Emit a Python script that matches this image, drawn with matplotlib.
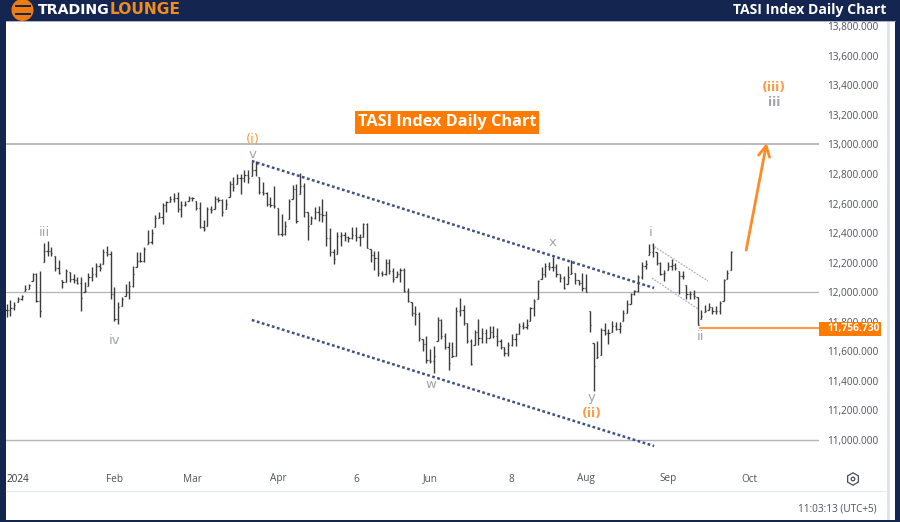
import numpy as np
import matplotlib
matplotlib.use("Agg")
import matplotlib.pyplot as plt
from matplotlib.patches import Rectangle, Circle, RegularPolygon

highs = [11919,11948,11930,11964,11982,12050,12054,12129,12129,12145,
         12332,12348,12303,12242,12217,12084,12156,12138,12122,12099,
         12099,12066,12129,12167,12197,12197,12292,12314,12280,12032,
         11930,11964,12054,12077,12174,12273,12269,12303,12420,12427,
         12524,12540,12603,12619,12653,12671,12676,12619,12619,
         12653,12646,12619,12612,12490,12574,12585,12653,12642,12630,
         12630,12755,12777,12800,12800,12829,12829,12879,12890,
         12782,12744,12676,12642,12721,12567,12529,12484,12630,12725,
         12732,12807,12737,12545,12517,12574,12581,12630,
         12551,12434,12292,12404,12409,12409,12377,12438,12438,12393,
         12468,12468,12292,12280,12280,
         12145,12224,12224,12160,12145,12160,12160,12025,11930,11907,
         11862,11681,11704,11614,11632,11828,11817,11726,11659,11659,
         11896,11957,11912,11794,11681,11745,11821,11754,11749,
         11767,11767,11760,11681,11625,11659,11715,11722,11790,11799,
         11817,11896,11952,12084,12167,12197,12201,12235,12190,12122,
         12111,12179,
         12215,12129,12079,12129,12124,11871,11654,11672,11758,11790,
         11751,11803,11797,11797,11876,11944,11993,12016,12113,12203,
         12215,12328,12332,12271,12203,12151,12203,12226,12197,12142,
         12142,12045,12007,12016,11966,11880,11916,11925,11898,11903,
         11943,12090,12147,12276]
lows = [11828,11840,11880,11934,11948,12009,12020,12077,11934,11828,
        12201,12246,12246,12145,12122,12027,12066,12070,12059,12054,
        11873,11998,12043,12077,12099,12145,12190,12246,11952,11806,
        11783,11907,11975,11952,12036,12167,12201,12201,12325,12325,
        12438,12499,12461,12540,12608,12608,12540,12506,12585,
        12619,12619,12558,12434,12411,12445,12536,12563,12612,12517,
        12563,12642,12687,12732,12664,12743,12739,12784,12788,
        12664,12658,12585,12574,12567,12386,12382,12386,12495,12630,
        12468,12664,12506,12353,12461,12495,12484,12472,
        12310,12246,12190,12258,12314,12348,12337,12359,12348,12314,
        12370,12296,12201,12151,12106,
        12106,12115,12122,12070,12099,12070,12002,11930,11840,11776,
        11670,11602,11519,11519,11451,11670,11681,11614,11473,11557,
        11568,11840,11776,11654,11505,11641,11641,11654,11654,11686,
        11686,11632,11614,11568,11568,11636,11636,11715,11749,11749,
        11806,11835,11952,12088,12099,12151,12145,12099,12066,12020,
        12054,
        12124,12056,12045,12007,12000,11729,11329,11555,11571,11706,
        11650,11729,11740,11724,11803,11858,11921,11977,12000,12090,
        12158,12249,12237,12181,12113,12075,12147,12151,12147,11984,
        12090,11955,11955,11955,11774,11819,11864,11880,11853,11853,
        11849,11943,12090,12151]
closes = [11880,11890,11915,11955,11975,12020,12045,12120,11940,11870,
          12280,12280,12265,12160,12130,12070,12140,12090,12080,12060,
          11960,12010,12100,12120,12180,12160,12275,12255,11990,11815,
          11900,11950,12000,12040,12120,12210,12210,12290,12340,12400,
          12500,12510,12590,12610,12630,12640,12560,12590,12600,
          12640,12640,12570,12440,12430,12560,12555,12630,12625,12540,
          12600,12730,12710,12770,12770,12790,12770,12830,12870,
          12680,12670,12600,12590,12580,12395,12395,12450,12620,12700,
          12480,12720,12540,12450,12500,12540,12530,12520,
          12365,12270,12225,12380,12390,12370,12365,12390,12370,12375,
          12460,12300,12250,12230,12130,
          12120,12200,12140,12090,12120,12150,12010,11940,11860,11850,
          11690,11650,11540,11530,11570,11810,11700,11630,11520,11570,
          11870,11880,11790,11670,11510,11730,11690,11725,11690,11730,
          11700,11670,11625,11585,11640,11680,11715,11770,11765,11780,
          11890,11940,12075,12120,12180,12170,12170,12120,12095,12030,
          12100,
          12130,12080,12060,12030,12000,11780,11500,11560,11740,11720,
          11720,11770,11750,11770,11860,11920,11985,12005,12100,12180,
          12190,12270,12300,12200,12125,12130,12180,12185,12165,12110,
          12110,11985,11985,11975,11779,11835,11875,11900,11870,11870,
          11925,12080,12130,12270]
n = min(len(highs), len(lows), len(closes))
highs, lows, closes = highs[:n], lows[:n], closes[:n]

month_labels = ["2024", "Feb", "Mar", "Apr", "6", "Jun", "8", "Aug", "Sep", "Oct"]
month_bars = [3, 29, 50, 73, 94, 114, 136, 156, 178, 200]
price_ticks = [11000, 11200, 11400, 11600, 11800, 12000, 12200, 12400, 12600,
               12800, 13000, 13200, 13400, 13600, 13800]
level_lines = [13000, 12000, 11000]
invalidation = 11756.73
upper_channel = ([66, 174.3], [12888, 12028])
lower_channel = ([66, 174.3], [11811, 10957])
small_upper = ([173.7, 188.8], [12319, 12075])
small_lower = ([173.7, 186.1], [12095, 11886])
forecast = ([199.1, 204.6], [12285, 13010])

W, H = 900, 522
NAVY = "#14264f"
ORANGE = "#ff7a00"
LORANGE = "#ff9a45"
GREY = "#a0a4ae"
TXT = "#50535c"
FONT = "Open Sans"

fig = plt.figure(figsize=(W / 100, H / 100), dpi=100, facecolor="white")

def box(l, t, r, b):
    return [l / W, 1 - b / H, (r - l) / W, (b - t) / H]

ax = fig.add_axes(box(5.5, 21, 819, 464))
ax.set_facecolor("none")
ax.set_xlim(-0.32, 218.7)
ax.set_ylim(10835.4, 13836.7)
for s in ax.spines.values():
    s.set_visible(False)

for lv, lw in zip(level_lines, [1.3, 0.9, 1.0]):
    ax.axhline(lv, color="#b4b4b4", lw=lw, zorder=1)

x = np.arange(n)
hi, lo, cl = map(np.array, (highs, lows, closes))
op = np.clip(np.r_[cl[0], cl[:-1]], lo, hi)
BAR = "#3c3c3c"
ax.vlines(x, lo, hi, color=BAR, lw=1.0, zorder=3)
ax.hlines(op, x - 0.33, x, color=BAR, lw=0.9, zorder=3)
ax.hlines(cl, x, x + 0.33, color=BAR, lw=0.9, zorder=3)

for (xs, ys) in (upper_channel, lower_channel):
    ax.plot(xs, ys, color="#3f5288", lw=1.8, ls=(0, (1.1, 1.0)), zorder=4)
for (xs, ys) in (small_upper, small_lower):
    ax.plot(xs, ys, color="#a9b2cc", lw=0.9, ls=(0, (1.5, 1)), zorder=2)

ax.plot([186.7, ax.get_xlim()[1]], [invalidation] * 2, color=LORANGE, lw=1.5, zorder=2)
ax.annotate("", xy=(forecast[0][1], forecast[1][1]), xytext=(forecast[0][0], forecast[1][0]),
            arrowprops=dict(arrowstyle="->,head_length=0.75,head_width=0.4", color="#ff8a26",
                            lw=2.0, shrinkA=0, shrinkB=0), zorder=5)

ax.set_xticks(month_bars, month_labels)
ax.set_yticks(price_ticks, [f"{p:,.3f}" for p in price_ticks])
ax.yaxis.tick_right()
ax.tick_params(axis="y", length=0, pad=5.6, labelsize=7.2, labelcolor=TXT)
ax.tick_params(axis="x", length=0, pad=10.8, labelsize=7.2, labelcolor=TXT)
for t in ax.get_xticklabels() + ax.get_yticklabels():
    t.set_family(FONT)
for t in ax.get_xticklabels():
    t.set_va("center")
ax.get_xticklabels()[0].set_color("#33363d")

# chart frame and header, in pixels
ov = fig.add_axes([0, 0, 1, 1], zorder=10)
ov.set_xlim(0, W)
ov.set_ylim(H, 0)
ov.axis("off")
ov.patch.set_alpha(0)
ov.add_patch(Rectangle((0, 0), W, 20.5, fc=NAVY, ec="none"))
ov.add_patch(Rectangle((0, 0), 5.5, H, fc=NAVY, ec="none"))
ov.add_patch(Rectangle((0, 519.5), W, 3, fc=NAVY, ec="none"))
ov.add_patch(Rectangle((895, 0), 5, H, fc=NAVY, ec="none"))
ov.add_patch(Rectangle((886.5, 21), 3.5, 498.5, fc="#e0e3f0", ec="none"))
ov.plot([5.5, 886.5], [491, 491], color="#e6e8ee", lw=0.9)
ov.plot([5.5, 895], [20.8, 20.8], color="#9aa3bd", lw=0.6)

# logo
ov.add_patch(Circle((22.5, 10), 11, fc="#f07c10", ec="none"))
for yy, hh, ww in ((5, 2.4, 16), (13, 2.4, 16)):
    ov.add_patch(Rectangle((22.5 - ww / 2, yy), ww, hh, fc=NAVY, ec="none"))
ov.text(38, 14, "TRADING", color="white", fontsize=10.2, fontweight="bold",
        family="DejaVu Sans", va="baseline", ha="left")
ov.text(110, 14, "LOUNGE", color="#f58a1f", fontsize=11.2, fontweight="bold",
        family="DejaVu Sans", va="baseline", ha="left")
ov.text(886, 10, "TASI Index Daily Chart", color="white", fontsize=10.1, fontweight="bold",
        family=FONT, va="center", ha="right")

# central title
ov.add_patch(Rectangle((355, 110.7), 184, 23.3, fc=ORANGE, ec="none"))
ov.text(447, 122, "TASI Index Daily Chart", color="white", fontsize=11.7, fontweight="bold",
        family=FONT, va="center", ha="center")

# price tag
ov.add_patch(Rectangle((819, 321.5), 62, 14.5, fc=ORANGE, ec="none"))
ov.text(827, 328.5, "11,756.730", color="white", fontsize=7.3, fontweight="bold",
        family=FONT, va="center", ha="left")

# wave labels
for txt, px, py, col, wt, fs in [
    ("(i)", 253, 139, LORANGE, "normal", 9.5),
    ("v", 253, 154, GREY, "normal", 9.5),
    ("iii", 44, 233, GREY, "normal", 9.5),
    ("iv", 115, 340, GREY, "normal", 9.5),
    ("w", 431, 385, GREY, "normal", 9.5),
    ("x", 553, 242, GREY, "normal", 9.5),
    ("y", 592, 398, GREY, "normal", 9.5),
    ("(ii)", 592, 414, LORANGE, "bold", 9),
    ("i", 651, 232, GREY, "normal", 9.5),
    ("ii", 700, 336, GREY, "normal", 9.5),
    ("(iii)", 774, 88, LORANGE, "bold", 9),
    ("iii", 774, 103, GREY, "bold", 9),
]:
    ov.text(px, py, txt, color=col, fontsize=fs, fontweight=wt, family="DejaVu Sans",
            va="center", ha="center", zorder=6)

# settings icon and clock
ov.add_patch(RegularPolygon((853, 479), 6, radius=6.2, fc="none", ec="#4a4d55", lw=0.9))
ov.add_patch(Circle((853, 479), 1.8, fc="none", ec="#4a4d55", lw=0.9))
ov.text(877, 509, "11:03:13 (UTC+5)", color=TXT, fontsize=7.2, family=FONT, va="center", ha="right")

fig.savefig("out.png", dpi=100)
